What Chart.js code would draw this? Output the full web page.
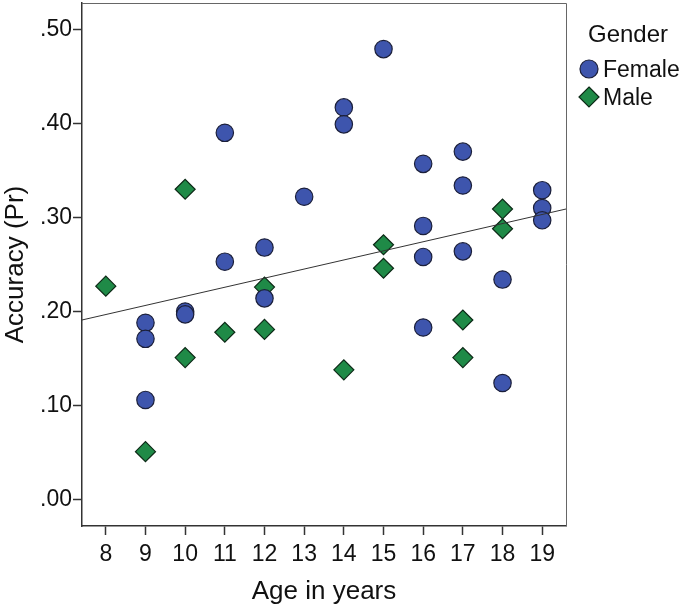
<!DOCTYPE html>
<html>
<head>
<meta charset="utf-8">
<script src="https://cdn.jsdelivr.net/npm/chart.js@4.4.0/dist/chart.umd.min.js"></script>
<style>
  html, body { margin: 0; padding: 0; background: #fff; }
  #wrap { width: 685px; height: 609px; }
</style>
</head>
<body>
<div id="wrap"><canvas id="scatter"></canvas></div>
<script>
// ages (x) and accuracy (y)
var femaleAge = [9, 9, 9, 10, 10, 11, 11, 12, 12, 13, 14, 14, 15, 16, 16, 16, 16, 17, 17, 17, 18, 18, 19, 19, 19];
var femaleAcc = [0.188, 0.171, 0.106, 0.200, 0.197, 0.390, 0.253, 0.268, 0.214, 0.322, 0.417, 0.399, 0.479, 0.357, 0.291, 0.258, 0.183, 0.370, 0.334, 0.264, 0.234, 0.124, 0.329, 0.310, 0.297];

var maleAge = [8, 9, 10, 10, 11, 12, 12, 14, 15, 15, 17, 17, 18, 18];
var maleAcc = [0.227, 0.051, 0.330, 0.151, 0.178, 0.226, 0.181, 0.138, 0.271, 0.246, 0.191, 0.151, 0.309, 0.288];

// fit line end points (at the plot edges)
var fitAge = [7.4, 19.6];
var fitAcc = [0.191, 0.309];

var xTicks = [8, 9, 10, 11, 12, 13, 14, 15, 16, 17, 18, 19];
var yTicks = [0, 0.1, 0.2, 0.3, 0.4, 0.5];

function pts(xs, ys) {
    return xs.map(function(x, i) { return { x: x, y: ys[i] }; });
}

var FONT = '"Liberation Sans", Arial, sans-serif';
var BLUE = '#3e55ad';
var GREEN = '#1f8a47';

// box around plot + legend on the right
var framePlugin = {
    id: 'frame',
    afterDraw: function(chart) {
        var ctx = chart.ctx;
        var a = chart.chartArea;
        ctx.save();
        ctx.strokeStyle = '#666';
        ctx.lineWidth = 1;
        ctx.beginPath();
        ctx.moveTo(a.left, a.top + 0.5);
        ctx.lineTo(a.right + 0.5, a.top + 0.5);
        ctx.lineTo(a.right + 0.5, a.bottom);
        ctx.stroke();

        // legend
        ctx.fillStyle = '#111';
        ctx.textBaseline = 'middle';
        ctx.textAlign = 'left';
        ctx.font = '24px ' + FONT;
        ctx.fillText('Gender', 588, 35);
        ctx.font = '23px ' + FONT;
        ctx.fillText('Female', 603, 71);
        ctx.fillText('Male', 603, 99);

        ctx.lineWidth = 1.2;
        ctx.strokeStyle = '#1b1f3a';
        ctx.fillStyle = BLUE;
        ctx.beginPath();
        ctx.arc(589, 69, 9, 0, Math.PI * 2);
        ctx.fill();
        ctx.stroke();

        ctx.strokeStyle = '#0d2a17';
        ctx.fillStyle = GREEN;
        ctx.beginPath();
        ctx.moveTo(589, 87);
        ctx.lineTo(599, 97);
        ctx.lineTo(589, 107);
        ctx.lineTo(579, 97);
        ctx.closePath();
        ctx.fill();
        ctx.stroke();
        ctx.restore();
    }
};

var ctx = document.getElementById('scatter').getContext('2d');
new Chart(ctx, {
    type: 'scatter',
    data: {
        datasets: [{
            label: 'Fit',
            type: 'line',
            data: pts(fitAge, fitAcc),
            borderColor: '#333',
            borderWidth: 1,
            pointRadius: 0,
            fill: false,
            order: 0
        }, {
            label: 'Female',
            data: pts(femaleAge, femaleAcc),
            pointStyle: 'circle',
            pointRadius: 8.7,
            backgroundColor: BLUE,
            borderColor: '#1b1f3a',
            borderWidth: 1.2,
            order: 1
        }, {
            label: 'Male',
            data: pts(maleAge, maleAcc),
            pointStyle: 'rectRot',
            pointRadius: 10,
            backgroundColor: GREEN,
            borderColor: '#0d2a17',
            borderWidth: 1.2,
            order: 1
        }]
    },
    plugins: [framePlugin],
    options: {
        responsive: true,
        maintainAspectRatio: false,
        animation: false,
        layout: { autoPadding: false, padding: { top: 3, right: 119, left: 0, bottom: 0 } },
        plugins: {
            legend: { display: false },
            tooltip: { enabled: false }
        },
        scales: {
            x: {
                type: 'linear',
                min: 7.4,
                max: 19.6,
                afterBuildTicks: function(scale) {
                    scale.ticks = xTicks.map(function(v) { return { value: v }; });
                },
                afterFit: function(scale) {
                    scale.height = 83;
                    scale.paddingLeft = 0;
                    scale.paddingRight = 0;
                },
                grid: { drawOnChartArea: false, drawTicks: true, tickLength: 9, color: '#333', tickWidth: 1.5 },
                border: { display: true, color: '#333', width: 1.5 },
                ticks: {
                    color: '#111',
                    padding: 6,
                    maxRotation: 0,
                    font: { family: FONT, size: 23 }
                },
                title: {
                    display: true,
                    text: 'Age in years',
                    color: '#111',
                    font: { family: FONT, size: 26 },
                    padding: { top: 0, bottom: 2 }
                }
            },
            y: {
                min: -0.028,
                max: 0.528,
                afterBuildTicks: function(scale) {
                    scale.ticks = yTicks.map(function(v) { return { value: v }; });
                },
                afterFit: function(scale) {
                    scale.width = 82;
                    scale.paddingTop = 0;
                    scale.paddingBottom = 0;
                },
                grid: { drawOnChartArea: false, drawTicks: true, tickLength: 9, color: '#333', tickWidth: 1.5 },
                border: { display: true, color: '#333', width: 1.5 },
                ticks: {
                    color: '#111',
                    padding: 1,
                    font: { family: FONT, size: 23, lineHeight: 0.15 },
                    callback: function(v) { return v.toFixed(2).replace(/^0/, ''); }
                },
                title: {
                    display: true,
                    text: 'Accuracy (Pr)',
                    color: '#111',
                    font: { family: FONT, size: 26 },
                    padding: { top: 0, bottom: 0 }
                }
            }
        }
    }
});
</script>
</body>
</html>
